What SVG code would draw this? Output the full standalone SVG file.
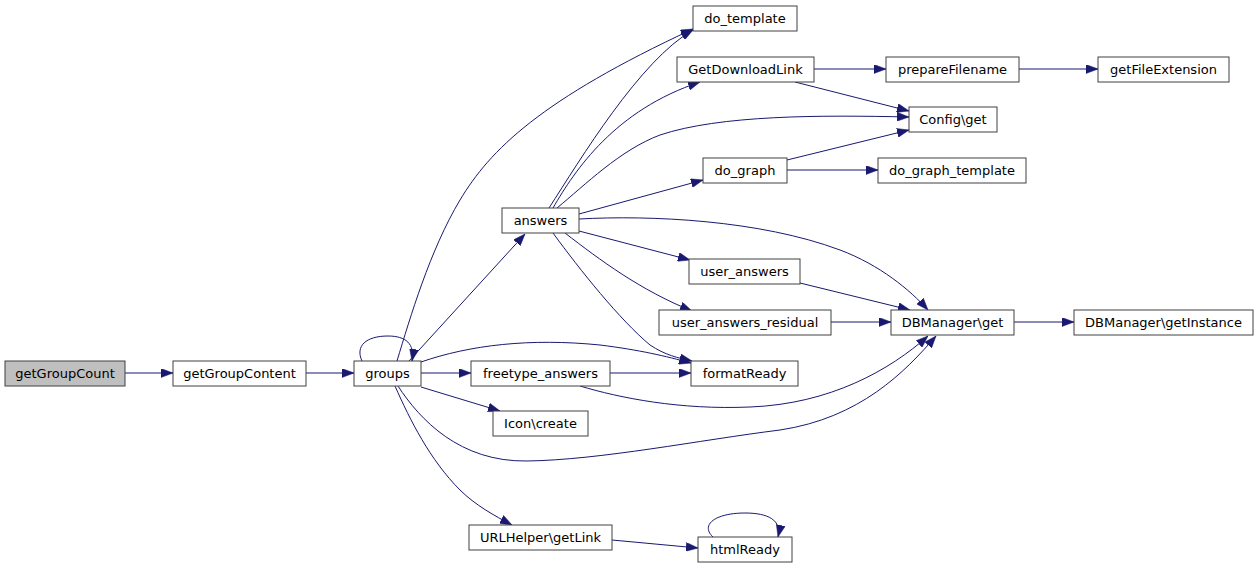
<svg xmlns="http://www.w3.org/2000/svg" width="1259" height="568" viewBox="0 0 1259 568">
<style>
.n rect{fill:#fff;stroke:#404040;stroke-width:1}
.n.root rect{fill:#bfbfbf}
.n text{font-family:"DejaVu Sans",sans-serif;font-size:13px;fill:#000;text-anchor:middle}
.e path{fill:none;stroke:#191970;stroke-width:1;marker-end:url(#a)}
</style>
<defs>
<marker id="a" viewBox="0 0 12 9" refX="12" refY="4.5" markerWidth="12" markerHeight="9" markerUnits="userSpaceOnUse" orient="auto">
<polygon points="0,0 12,4.5 0,9" fill="#191970" stroke="#191970" stroke-width="0.5"/>
</marker>
</defs>
<rect width="1259" height="568" fill="#fff"/>
<g class="e" id="edges">
<path d="M125,373 L173,373"/>
<path d="M306,373 L354,373"/>
<path d="M362,361 C355,346 366,336 388,336 C406,336 415,344 412,361"/>
<path d="M409,361 L525,234"/>
<path d="M397,361 C410,318 430,250 460,200 C490,150 540,100 693,29"/>
<path d="M421,362 C470,345 530,338 600,345 C640,350 665,356 691,363"/>
<path d="M421,373 L471,373"/>
<path d="M421,387 L500,411"/>
<path d="M398,386 C420,420 460,462 527,461 C600,460 700,440 780,430 C860,418 905,372 936,336"/>
<path d="M395,386 C410,420 430,460 460,490 C475,505 495,516 512,525"/>
<path d="M610,373 L691,373"/>
<path d="M580,386 C620,398 680,410 750,407 C830,404 890,370 928,336"/>
<path d="M549,208 C580,160 640,60 693,30"/>
<path d="M553,208 C575,170 615,110 700,82"/>
<path d="M557,208 C585,185 620,150 660,135 C720,115 820,115 909,117"/>
<path d="M579,214 L703,180"/>
<path d="M579,219 C650,215 760,220 840,250 C880,265 910,290 928,310"/>
<path d="M579,231 L690,260"/>
<path d="M565,233 C600,260 640,290 692,311"/>
<path d="M553,233 C580,270 620,320 650,345 C665,355 678,358 692,361"/>
<path d="M814,69 L886,69"/>
<path d="M795,82 L909,111"/>
<path d="M1019,69 L1098,69"/>
<path d="M787,160 L909,130"/>
<path d="M787,170 L878,170"/>
<path d="M800,283 L910,310"/>
<path d="M831,322 L891,322"/>
<path d="M1014,322 L1074,322"/>
<path d="M612,540 L698,548"/>
<path d="M713,537 C700,525 715,513 745,513 C768,513 782,520 778,537"/>
</g>
<g class="n root" id="getGroupCount"><rect x="5" y="361" width="120" height="25"/><text x="65" y="378">getGroupCount</text></g>
<g class="n" id="getGroupContent"><rect x="173" y="361" width="133" height="25"/><text x="239.5" y="378">getGroupContent</text></g>
<g class="n" id="groups"><rect x="354" y="361" width="67" height="25"/><text x="387.5" y="378">groups</text></g>
<g class="n" id="freetype_answers"><rect x="471" y="361" width="139" height="25"/><text x="540.5" y="378">freetype_answers</text></g>
<g class="n" id="Icon_create"><rect x="493" y="411" width="95" height="25"/><text x="540.5" y="428">Icon\create</text></g>
<g class="n" id="answers"><rect x="502" y="208" width="77" height="25"/><text x="540.5" y="225">answers</text></g>
<g class="n" id="do_template"><rect x="693" y="6" width="104" height="25"/><text x="745" y="23">do_template</text></g>
<g class="n" id="GetDownloadLink"><rect x="677" y="57" width="137" height="25"/><text x="745.5" y="74">GetDownloadLink</text></g>
<g class="n" id="do_graph"><rect x="703" y="158" width="84" height="25"/><text x="745" y="175">do_graph</text></g>
<g class="n" id="prepareFilename"><rect x="886" y="57" width="133" height="25"/><text x="952.5" y="74">prepareFilename</text></g>
<g class="n" id="getFileExtension"><rect x="1098" y="57" width="131" height="25"/><text x="1163.5" y="74">getFileExtension</text></g>
<g class="n" id="Config_get"><rect x="909" y="107" width="88" height="25"/><text x="953" y="124">Config\get</text></g>
<g class="n" id="do_graph_template"><rect x="878" y="158" width="148" height="25"/><text x="952" y="175">do_graph_template</text></g>
<g class="n" id="user_answers"><rect x="689" y="259" width="111" height="25"/><text x="744.5" y="276">user_answers</text></g>
<g class="n" id="user_answers_residual"><rect x="659" y="310" width="172" height="25"/><text x="745" y="327">user_answers_residual</text></g>
<g class="n" id="DBManager_get"><rect x="891" y="310" width="123" height="25"/><text x="952.5" y="327">DBManager\get</text></g>
<g class="n" id="formatReady"><rect x="691" y="361" width="107" height="25"/><text x="744.5" y="378">formatReady</text></g>
<g class="n" id="DBManager_getInstance"><rect x="1074" y="310" width="179" height="25"/><text x="1163.5" y="327">DBManager\getInstance</text></g>
<g class="n" id="URLHelper_getLink"><rect x="469" y="525" width="143" height="25"/><text x="540.5" y="542">URLHelper\getLink</text></g>
<g class="n" id="htmlReady"><rect x="698" y="537" width="94" height="25"/><text x="745" y="554">htmlReady</text></g>
</svg>
